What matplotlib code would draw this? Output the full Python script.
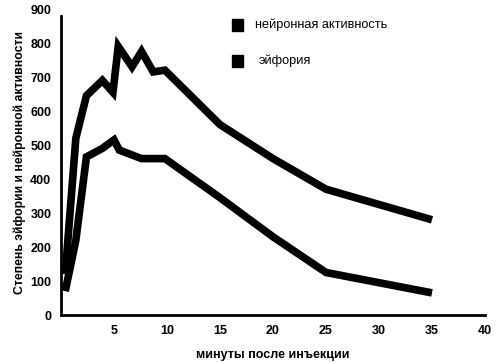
import matplotlib
matplotlib.use("Agg")
import matplotlib.pyplot as plt
from matplotlib.patches import Rectangle

plt.rcParams['font.family'] = ['Liberation Sans', 'DejaVu Sans']

minutes_neuro = [0.4, 1.4, 2.4, 3.9, 4.9, 5.4, 6.7, 7.6, 8.7, 9.8, 15, 20, 25, 30, 35]
neuro = [120, 520, 645, 690, 655, 790, 730, 775, 715, 720, 560, 460, 370, 325, 280]
minutes_euph = [0.4, 1.4, 2.4, 3.9, 5.0, 5.5, 7.6, 9.8, 15, 20, 25, 30, 35]
euph = [70, 220, 465, 490, 515, 485, 460, 460, 345, 230, 125, 95, 65]

xticks = [5, 10, 15, 20, 25, 30, 35, 40]
yticks = [0, 100, 200, 300, 400, 500, 600, 700, 800, 900]
labels = ['нейронная активность', 'эйфория']

W, H = 497, 362
fig = plt.figure(figsize=(W / 100, H / 100), dpi=100)
ax = fig.add_axes([61 / W, (H - 315) / H, (485 - 61) / W, (315 - 9) / H])

ax.plot(minutes_neuro, neuro, color='black', lw=5.5, solid_joinstyle='miter', solid_capstyle='butt')
ax.plot(minutes_euph, euph, color='black', lw=5.5, solid_joinstyle='miter', solid_capstyle='butt')

ax.set_xlim(0, 40)
ax.set_ylim(0, 900)
ax.set_xticks(xticks)
ax.set_yticks(yticks)
ax.tick_params(length=0, labelsize=9, pad=7)
for lab in ax.get_xticklabels() + ax.get_yticklabels():
    lab.set_fontweight('bold')
for s in ['top', 'right']:
    ax.spines[s].set_visible(False)
ax.spines['left'].set_linewidth(2)
ax.spines['bottom'].set_linewidth(2)
ax.spines['left'].set_bounds(0, 880)

ax.set_xlabel('минуты после инъекции', fontsize=9, fontweight='bold', labelpad=9)
ax.set_ylabel('Степень эйфории и нейронной активности', fontsize=8.8, fontweight='bold', labelpad=3)

# legend
legend_y = [25, 61]
legend_tx = [255, 259]
for lab, yc, tx in zip(labels, legend_y, legend_tx):
    fig.patches.append(Rectangle((232 / W, (H - yc - 6) / H), 11 / W, 12 / H,
                                 transform=fig.transFigure, color='black'))
    fig.text(tx / W, (H - yc) / H, lab, fontsize=9.2, va='center', ha='left')

fig.savefig('out.png', dpi=100, facecolor='white')
